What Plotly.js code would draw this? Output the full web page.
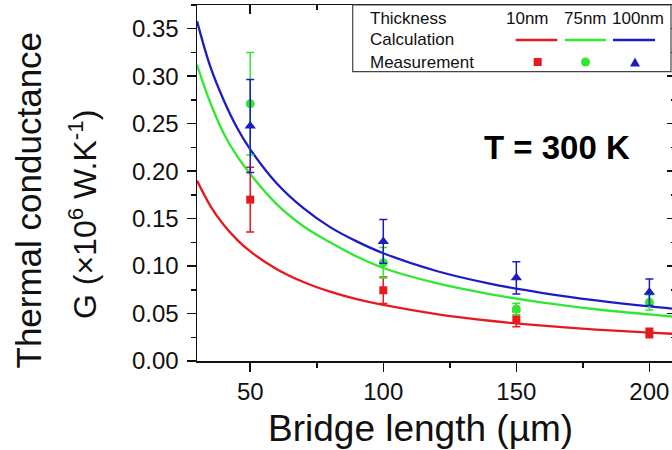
<!DOCTYPE html>
<html>
<head>
<meta charset="utf-8">
<script src="https://cdn.plot.ly/plotly-3.0.1.min.js"></script>
<style>
html,body{margin:0;padding:0;overflow:hidden;background:#fff;}
#chart{width:680px;height:450px;}
</style>
</head>
<body>
<div id="chart"></div>
<script>
// Calculated curves
const lengthGrid = [30, 35, 40, 45, 50, 60, 70, 80, 90, 100, 120, 140, 160, 180, 200, 210];
const calc10nm  = [0.190, 0.1635, 0.1435, 0.1279, 0.1155, 0.0967, 0.0832, 0.0730, 0.0651, 0.0590, 0.0494, 0.0424, 0.0372, 0.0331, 0.0299, 0.0285];
const calc75nm  = [0.312, 0.272, 0.240, 0.216, 0.197, 0.165, 0.142, 0.125, 0.110, 0.098, 0.082, 0.0705, 0.0615, 0.0545, 0.049, 0.0465];
const calc100nm = [0.358, 0.310, 0.275, 0.246, 0.223, 0.187, 0.161, 0.141, 0.126, 0.1135, 0.0948, 0.0815, 0.0716, 0.0638, 0.0575, 0.0549];

// Measurements
const measLength = [50, 100, 150, 200];
const meas10nm  = [0.170, 0.0745, 0.044, 0.0295];
const err10nm   = [0.034, 0.014, 0.008, 0.005];
const meas75nm  = [0.271, 0.1035, 0.0548, 0.0618];
const err75nm   = [0.054, 0.016, 0.006, 0.008];
const meas100nm = [0.2475, 0.126, 0.0876, 0.0724];
const err100nm  = [0.049, 0.023, 0.017, 0.014];

const yTickVals = [0, 0.05, 0.10, 0.15, 0.20, 0.25, 0.30, 0.35];
const xTickVals = [50, 100, 150, 200];

const RED = '#e8191e', GREEN = '#30e830', BLUE = '#1c1cc4';
const FONT = 'Liberation Sans, Arial, sans-serif';

function line(x, y, c) {
  return {x: x, y: y, mode: 'lines', line: {color: c, width: 2.3, shape: 'spline', smoothing: 1}, showlegend: false, hoverinfo: 'skip'};
}
function pts(x, y, e, c, sym, sz) {
  return {x: x, y: y, mode: 'markers', marker: {color: c, symbol: sym, size: sz},
    error_y: {type: 'data', array: e, visible: true, color: c, thickness: 1.5, width: 4},
    showlegend: false};
}

const traces = [
  line(lengthGrid, calc10nm, RED),
  line(lengthGrid, calc75nm, GREEN),
  line(lengthGrid, calc100nm, BLUE),
  pts(measLength, meas10nm, err10nm, RED, 'square', 8),
  pts(measLength, meas75nm, err75nm, GREEN, 'circle', 9),
  pts(measLength, meas100nm, err100nm, BLUE, 'triangle-up', 10),
  {x: [], y: [], xaxis: 'x2', yaxis: 'y2', showlegend: false, hoverinfo: 'skip'}
];

const axCommon = {showgrid: false, zeroline: false, showline: true, linecolor: '#111', linewidth: 1.5,
  tickcolor: '#111', tickwidth: 1.5, ticklen: 9, tickfont: {family: FONT, size: 24, color: '#111'}};

const PX = v => (v - 197) / 479;          // page px -> paper x
const PY = v => (361 - v) / 356;          // page px -> paper y

const layout = {
  width: 680, height: 450,
  margin: {l: 197, r: 4, t: 5, b: 89},
  paper_bgcolor: '#fff', plot_bgcolor: '#fff',
  showlegend: false,
  font: {family: FONT, color: '#111'},
  xaxis: Object.assign({}, axCommon, {range: [30, 210], tickvals: xTickVals, ticks: 'outside',
    minor: {dtick: 25, tick0: 50, ticks: 'outside', ticklen: 5, tickwidth: 1.5, tickcolor: '#111'}}),
  yaxis: Object.assign({}, axCommon, {range: [0, 0.375], tickvals: yTickVals, tickformat: '.2f', ticks: 'outside',
    ticklabelstandoff: 3,
    minor: {dtick: 0.025, tick0: 0, ticks: 'outside', ticklen: 5, tickwidth: 1.5, tickcolor: '#111'}}),
  xaxis2: Object.assign({}, axCommon, {range: [30, 210], overlaying: 'x', side: 'top', anchor: 'y2',
    tickvals: xTickVals, ticks: 'inside', showticklabels: false,
    minor: {dtick: 25, tick0: 50, ticks: 'inside', ticklen: 5, tickwidth: 1.5, tickcolor: '#111'}}),
  yaxis2: Object.assign({}, axCommon, {range: [0, 0.375], overlaying: 'y', side: 'right', anchor: 'x2',
    tickvals: yTickVals, ticks: 'inside', showticklabels: false,
    minor: {dtick: 0.025, tick0: 0, ticks: 'inside', ticklen: 5, tickwidth: 1.5, tickcolor: '#111'}}),
  shapes: [
    {type: 'rect', xref: 'paper', yref: 'paper', x0: PX(352.7), x1: PX(671), y0: PY(71.7), y1: 1,
      line: {color: '#444', width: 1.2}, fillcolor: '#fff', layer: 'above'},
    {type: 'line', xref: 'paper', yref: 'paper', x0: PX(515.7), x1: PX(557.3), y0: PY(40), y1: PY(40), line: {color: RED, width: 2.5}},
    {type: 'line', xref: 'paper', yref: 'paper', x0: PX(565), x1: PX(606), y0: PY(40), y1: PY(40), line: {color: GREEN, width: 2.5}},
    {type: 'line', xref: 'paper', yref: 'paper', x0: PX(613), x1: PX(655), y0: PY(40), y1: PY(40), line: {color: BLUE, width: 2.5}},
    {type: 'rect', xref: 'paper', yref: 'paper', x0: PX(533.7), x1: PX(541.7), y0: PY(66), y1: PY(58), line: {width: 0}, fillcolor: RED},
    {type: 'circle', xref: 'paper', yref: 'paper', x0: PX(581), x1: PX(590), y0: PY(66.5), y1: PY(57.5), line: {width: 0}, fillcolor: GREEN},
    {type: 'path', xref: 'paper', yref: 'paper',
      path: 'M' + PX(630) + ',' + PY(66.5) + ' L' + PX(640) + ',' + PY(66.5) + ' L' + PX(635) + ',' + PY(57.5) + ' Z',
      line: {width: 0}, fillcolor: BLUE}
  ],
  annotations: [
    {text: 'Thickness', xref: 'paper', yref: 'paper', x: PX(368), y: PY(18), xanchor: 'left', yanchor: 'middle', showarrow: false, font: {size: 17}},
    {text: 'Calculation', xref: 'paper', yref: 'paper', x: PX(368), y: PY(40), xanchor: 'left', yanchor: 'middle', showarrow: false, font: {size: 17}},
    {text: 'Measurement', xref: 'paper', yref: 'paper', x: PX(368), y: PY(62), xanchor: 'left', yanchor: 'middle', showarrow: false, font: {size: 17}},
    {text: '10nm', xref: 'paper', yref: 'paper', x: PX(527.7), y: PY(18), xanchor: 'center', yanchor: 'middle', showarrow: false, font: {size: 17}},
    {text: '75nm', xref: 'paper', yref: 'paper', x: PX(585.7), y: PY(18), xanchor: 'center', yanchor: 'middle', showarrow: false, font: {size: 17}},
    {text: '100nm', xref: 'paper', yref: 'paper', x: PX(638), y: PY(18), xanchor: 'center', yanchor: 'middle', showarrow: false, font: {size: 17}},
    {text: '<b>T = 300 K</b>', xref: 'paper', yref: 'paper', x: PX(556.7), y: PY(147), xanchor: 'center', yanchor: 'middle', showarrow: false, font: {size: 33, color: '#000'}},
    {text: 'Bridge length (µm)', xref: 'paper', yref: 'paper', x: PX(420), y: PY(428), xanchor: 'center', yanchor: 'middle', showarrow: false, font: {size: 37}},
    {text: 'Thermal conductance', xref: 'paper', yref: 'paper', x: PX(28), y: PY(200.5), xanchor: 'center', yanchor: 'middle', textangle: -90, showarrow: false, font: {size: 35}},
    {text: 'G (×10<sup>6</sup> W.K<sup>-1</sup>)', xref: 'paper', yref: 'paper', x: PX(83), y: PY(215), xanchor: 'center', yanchor: 'middle', textangle: -90, showarrow: false, font: {size: 32}}
  ]
};

Plotly.newPlot('chart', traces, layout, {displayModeBar: false, staticPlot: true});
</script>
</body>
</html>
